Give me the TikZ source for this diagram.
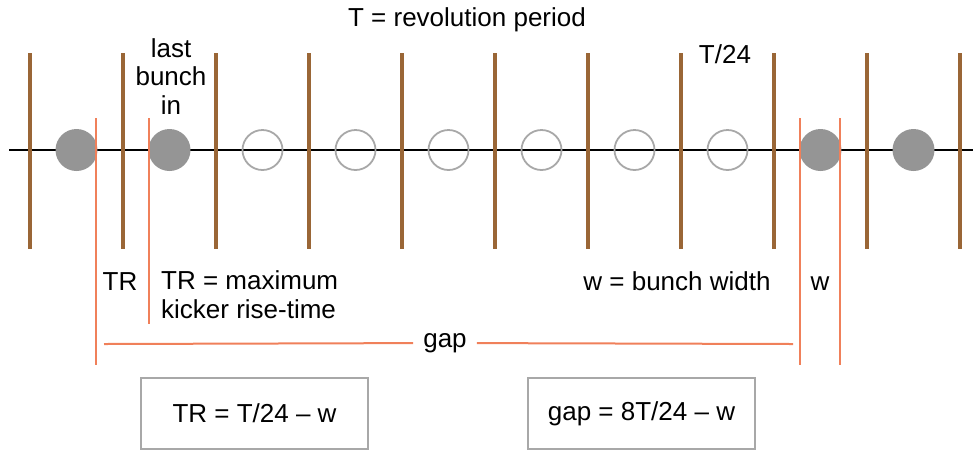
\documentclass[tikz,border=0pt]{standalone}
\usepackage{fontspec}
\setmainfont{Liberation Sans}
\definecolor{brn}{HTML}{9A6636}
\definecolor{org}{HTML}{F0805A}
\definecolor{gfill}{HTML}{959595}
\definecolor{gline}{HTML}{A8A8A8}
\begin{document}
\begin{tikzpicture}[x=1pt,y=-1pt,
  slot/.style={brn, line width=3.5pt},
  marker/.style={org, line width=2pt},
  full/.style={circle, fill=gfill, minimum size=42pt, inner sep=0pt},
  empty/.style={circle, draw=gline, line width=1.8pt, minimum size=40pt, inner sep=0pt},
  lbl/.style={font=\fontsize{26}{28.5}\selectfont, inner sep=0pt},
  eqbox/.style={draw=gline, line width=1.5pt, font=\fontsize{26}{28}\selectfont, minimum width=227pt, minimum height=71pt, inner sep=0pt}]
\useasboundingbox (0,0) rectangle (973,451);
% axis
\coordinate (axL) at (9,150);
\coordinate (axR) at (973,150);
\draw[black, line width=1.5pt] (axL) -- (axR);
% bunches
\node[full] (c1) at (76.5,150) {};
\node[full] (c2) at (169.5,150) {};
\node[empty] (c3) at (262.5,150) {};
\node[empty] (c4) at (355.5,150) {};
\node[empty] (c5) at (448.5,150) {};
\node[empty] (c6) at (541.5,150) {};
\node[empty] (c7) at (634.5,150) {};
\node[empty] (c8) at (727.5,150) {};
\node[full] (c9) at (820.5,150) {};
\node[full] (c10) at (913.5,150) {};
% slot boundaries
\foreach \i/\x in {1/30,2/123,3/216,4/309,5/402,6/495,7/588,8/681,9/774,10/867,11/960}{
  \coordinate (s\i t) at (\x,53);
  \coordinate (s\i b) at (\x,249);
  \draw[slot] (s\i t) -- (s\i b);
}
% orange markers
\coordinate (o1t) at (96,118);  \coordinate (o1b) at (96,365);
\coordinate (o2t) at (149,118); \coordinate (o2b) at (149,324);
\coordinate (o3t) at (800,118); \coordinate (o3b) at (800,365);
\coordinate (o4t) at (840,118); \coordinate (o4b) at (840,365);
\draw[marker] (o1t) -- (o1b);
\draw[marker] (o2t) -- (o2b);
\draw[marker] (o3t) -- (o3b);
\draw[marker] (o4t) -- (o4b);
% gap line
\coordinate (gL) at (104,344);
\coordinate (gR) at (793,344);
\node[lbl, inner xsep=10pt] (gap) at (445,343) {gap};
\draw[marker] (gL) -- (gap);
\draw[marker] (gap) -- (gR);
% labels
\node[lbl, anchor=base] (title) at (467,26) {T = revolution period};
\node[lbl, anchor=base] (t24) at (725,63) {T/24};
\node[lbl, anchor=base, align=center] (last) at (171,114) {last\\bunch\\in};
\node[lbl, anchor=base] (tr) at (120,290) {TR};
\node[lbl, anchor=base west, align=left] (trdef) at (161,318) {TR = maximum\\kicker rise-time};
\node[lbl, anchor=base] (wdef) at (677,290) {w = bunch width};
\node[lbl, anchor=base] (w) at (820,290) {w};
% equation boxes
\node[eqbox] (eq1) at (254.5,413.5) {TR = T/24 – w};
\node[eqbox] (eq2) at (641.5,413.5) {gap = 8T/24 – w};
\end{tikzpicture}
\end{document}
